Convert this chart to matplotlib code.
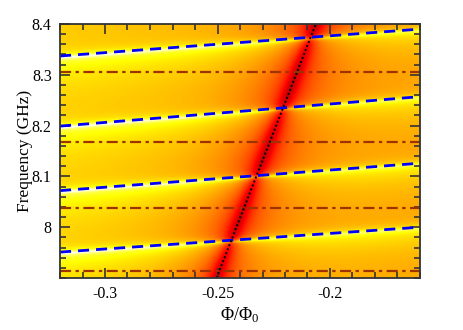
import numpy as np
import matplotlib
matplotlib.use("Agg")
import matplotlib.pyplot as plt
from matplotlib.ticker import MultipleLocator, FuncFormatter

# ---- data ----
x_range = [-0.32, -0.16]
f_range = [7.9, 8.4]
# steep (flux-tunable) resonance: endpoints (flux, GHz)
steep_flux = [-0.2504, -0.2063]
steep_freq = [7.9, 8.4]
# blue dashed cavity-like modes: frequency at left and right edge
blue_left = [8.337, 8.199, 8.072, 7.951]
blue_right = [8.390, 8.257, 8.126, 8.000]
# dash-dot horizontal modes
hmodes = [8.306, 8.168, 8.038, 7.914]
xticks = [-0.3, -0.25, -0.2]
yticks = [8.0, 8.1, 8.2, 8.3, 8.4]

plt.rcParams['font.family'] = ['Liberation Serif', 'DejaVu Serif']
plt.rcParams['mathtext.fontset'] = 'custom'
plt.rcParams['mathtext.rm'] = 'Liberation Serif'
plt.rcParams['mathtext.it'] = 'Liberation Serif:italic'
plt.rcParams['axes.unicode_minus'] = False

fig = plt.figure(figsize=(4.64, 3.30), dpi=100)
ax = fig.add_axes([60/464, 52/330, 360/464, 254/330])

# ---- background map built from the read line positions ----
xs = np.linspace(x_range[0], x_range[1], 500)
fs = np.linspace(f_range[0], f_range[1], 600)
X, F = np.meshgrid(xs, fs)
xfrac = (X - x_range[0]) / (x_range[1] - x_range[0])
H = 0.67 - 0.06 * xfrac
for bl, br in zip(blue_left, blue_right):
    fb = bl + (br - bl) * xfrac - 0.003
    d = F - fb
    tail = np.where(d < 0, np.exp(d / 0.035), np.exp(-d / 0.008))
    H = H + 0.13 * tail + 0.2 * (1 - 0.5 * xfrac) / (1 + (d / 0.003) ** 2)
xs_line = np.interp(F, steep_freq, steep_flux)
dx = X - xs_line
H = H - 0.2 * np.exp(-np.abs(dx) / 0.018) - 0.17 / (1 + (dx / 0.0035) ** 2)
H = np.clip(H, 0, 1)
ax.imshow(H, extent=[x_range[0], x_range[1], f_range[0], f_range[1]],
          origin='lower', aspect='auto', cmap='hot', vmin=0, vmax=1,
          interpolation='bilinear')

for hm in hmodes:
    ax.plot(x_range, [hm, hm], color='#a03200', lw=1.6, dashes=(5, 2, 1.5, 2))
for bl, br in zip(blue_left, blue_right):
    ax.plot(x_range, [bl, br], color='#0000ff', lw=2.0, dashes=(4, 2.5))
ax.plot(steep_flux, steep_freq, color='black', lw=1.4, ls=(0, (1, 1.2)))

ax.set_xlim(x_range)
ax.set_ylim(f_range)
ax.set_xticks(xticks)
ax.set_yticks(yticks)
ax.xaxis.set_minor_locator(MultipleLocator(0.01))
ax.yaxis.set_minor_locator(MultipleLocator(0.02))
fmt = FuncFormatter(lambda v, p: '%g' % round(v, 3))
ax.xaxis.set_major_formatter(fmt)
ax.yaxis.set_major_formatter(fmt)
ax.tick_params(which='both', direction='in', top=True, right=True,
               color='#333333', width=1.2, labelsize=11.5)
ax.tick_params(which='major', length=7, pad=6)
ax.tick_params(which='minor', length=4)
for s in ax.spines.values():
    s.set_color('#333333')
    s.set_linewidth(1.3)
ax.set_xlabel(r'Φ/Φ$_0$', fontsize=13, labelpad=2)
ax.set_ylabel('Frequency (GHz)', fontsize=12.5, labelpad=-1)

fig.savefig('out.png', dpi=100)
